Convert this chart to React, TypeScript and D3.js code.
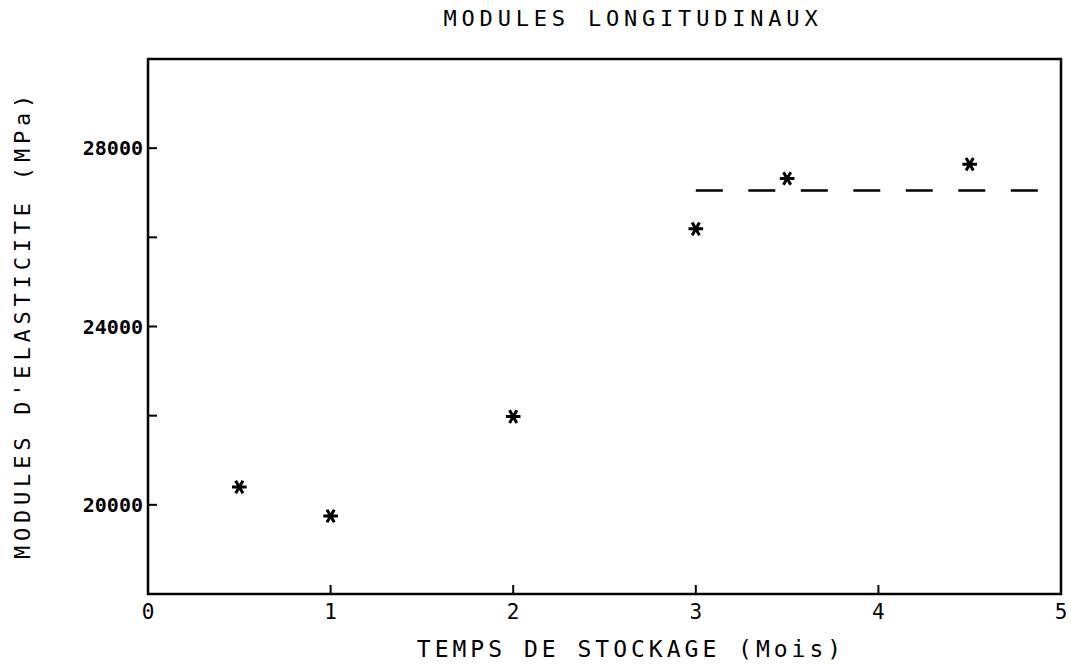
import { useEffect, useRef } from 'react';
import * as d3 from 'd3';

// data
const months = [0.5, 1, 2, 3, 3.5, 4.5];
const modules = [20400, 19750, 21980, 26190, 27320, 27640];
const plateauRange = [3, 5];
const plateauValue = 27050;
const xTicks = [0, 1, 2, 3, 4, 5];
const yTicks = [20000, 22000, 24000, 26000, 28000];
const yLabeled = [20000, 24000, 28000];

const W = 1071;
const H = 666;
const FONT = '"DejaVu Sans Mono", monospace';

const App = () => {
  const svgRef = useRef<SVGSVGElement>(null);

  useEffect(() => {
    if (!svgRef.current) return;
    const svg = d3.select(svgRef.current);
    svg.selectAll('*').remove();

    const margin = { top: 59, right: 10, bottom: 72, left: 148 };
    const innerW = W - margin.left - margin.right;
    const innerH = H - margin.top - margin.bottom;

    const x = d3.scaleLinear().domain([0, 5]).range([0, innerW]);
    const y = d3.scaleLinear().domain([18000, 30000]).range([innerH, 0]);

    const g = svg.append('g').attr('transform', `translate(${margin.left},${margin.top})`);

    // frame
    g.append('rect')
      .attr('width', innerW)
      .attr('height', innerH)
      .attr('fill', 'none')
      .attr('stroke', '#000')
      .attr('stroke-width', 2.5);

    // y ticks, pointing inward
    g.selectAll('.ytick')
      .data(yTicks)
      .enter()
      .append('line')
      .attr('x1', 0)
      .attr('x2', 9)
      .attr('y1', d => y(d))
      .attr('y2', d => y(d))
      .attr('stroke', '#000')
      .attr('stroke-width', 2);

    g.selectAll('.ylab')
      .data(yLabeled)
      .enter()
      .append('text')
      .attr('x', -5)
      .attr('y', d => y(d))
      .attr('dy', '0.36em')
      .attr('text-anchor', 'end')
      .attr('font-family', FONT)
      .attr('font-size', 20)
      .attr('font-weight', 'bold')
      .text(d => d);

    // x ticks, pointing inward
    g.selectAll('.xtick')
      .data(xTicks.slice(1, -1))
      .enter()
      .append('line')
      .attr('x1', d => x(d))
      .attr('x2', d => x(d))
      .attr('y1', innerH)
      .attr('y2', innerH - 9)
      .attr('stroke', '#000')
      .attr('stroke-width', 2);

    g.selectAll('.xlab')
      .data(xTicks)
      .enter()
      .append('text')
      .attr('x', d => x(d))
      .attr('y', innerH + 25)
      .attr('text-anchor', 'middle')
      .attr('font-family', FONT)
      .attr('font-size', 21)
      .text(d => d);

    // plateau dashed line
    g.append('line')
      .attr('x1', x(plateauRange[0]))
      .attr('x2', x(plateauRange[1]))
      .attr('y1', y(plateauValue))
      .attr('y2', y(plateauValue))
      .attr('stroke', '#000')
      .attr('stroke-width', 2.5)
      .attr('stroke-dasharray', '27 25.5');

    // asterisk markers
    const star = d3.symbol().type(d3.symbolAsterisk).size(150);
    g.selectAll('.pt')
      .data(months.map((m, i) => ({ m, v: modules[i] })))
      .enter()
      .append('path')
      .attr('d', star)
      .attr('transform', d => `translate(${x(d.m)},${y(d.v)}) rotate(90)`)
      .attr('fill', 'none')
      .attr('stroke', '#000')
      .attr('stroke-width', 3);

    // titles
    svg.append('text')
      .attr('x', 633)
      .attr('y', 26)
      .attr('text-anchor', 'middle')
      .attr('font-family', FONT)
      .attr('font-size', 22)
      .attr('letter-spacing', 4.8)
      .text('MODULES LONGITUDINAUX');

    svg.append('text')
      .attr('x', 631)
      .attr('y', 657)
      .attr('text-anchor', 'middle')
      .attr('font-family', FONT)
      .attr('font-size', 23)
      .attr('letter-spacing', 4)
      .text('TEMPS DE STOCKAGE (Mois)');

    svg.append('text')
      .attr('transform', `translate(30,${margin.top + innerH / 2 - 2}) rotate(-90)`)
      .attr('text-anchor', 'middle')
      .attr('font-family', FONT)
      .attr('font-size', 22)
      .attr('letter-spacing', 4.8)
      .text("MODULES D'ELASTICITE (MPa)");
  }, []);

  return <svg ref={svgRef} width={W} height={H} style={{ position: 'absolute', left: 0, top: 0, background: '#fff' }} />;
};

export default App;
